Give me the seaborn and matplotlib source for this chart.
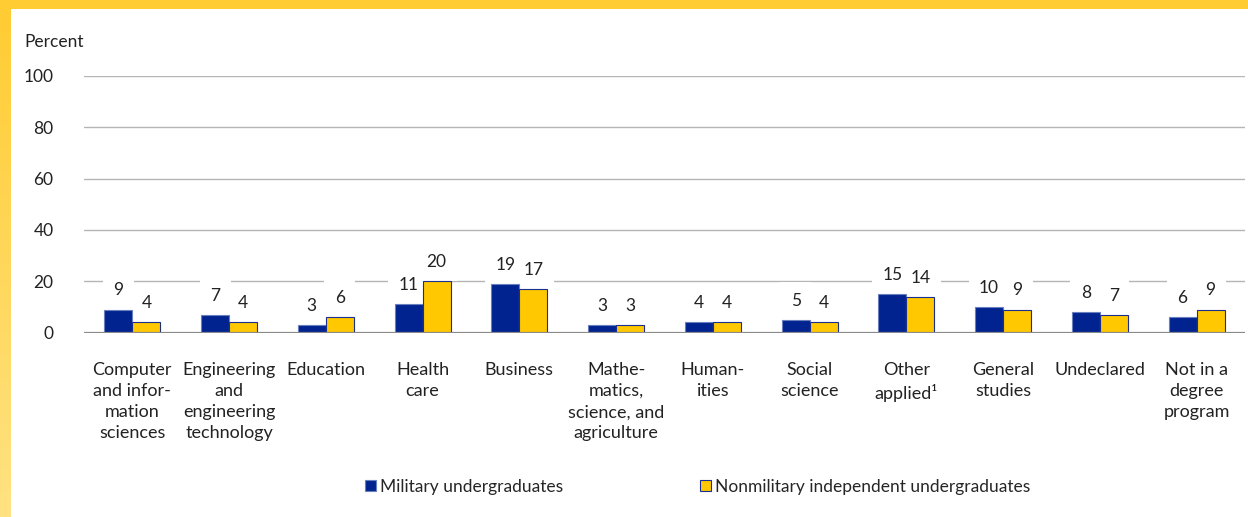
import numpy as np
import pandas as pd
import seaborn as sns
import matplotlib.pyplot as plt
from matplotlib.patches import Patch

# Data (percent of undergraduates by field of study)
categories = ['Computer\nand infor-\nmation\nsciences',
              'Engineering\nand\nengineering\ntechnology',
              'Education',
              'Health\ncare',
              'Business',
              'Mathe-\nmatics,\nscience, and\nagriculture',
              'Human-\nities',
              'Social\nscience',
              'Other\napplied\u00b9',
              'General\nstudies',
              'Undeclared',
              'Not in a\ndegree\nprogram']
military = [9, 7, 3, 11, 19, 3, 4, 5, 15, 10, 8, 6]
nonmilitary = [4, 4, 6, 20, 17, 3, 4, 4, 14, 9, 7, 9]
groups = ['Military undergraduates', 'Nonmilitary independent undergraduates']
yticks = [0, 20, 40, 60, 80, 100]

navy = '#00238f'
gold = '#ffc800'

df = pd.DataFrame({
    'field': categories * 2,
    'group': [groups[0]] * len(categories) + [groups[1]] * len(categories),
    'pct': military + nonmilitary,
})

sns.set_style('white')
plt.rcParams['font.family'] = ['Lato', 'DejaVu Sans']

fig = plt.figure(figsize=(12.48, 5.17), dpi=100)
ax = fig.add_axes([0.0673, 0.3565, 0.9303, 0.497])

sns.barplot(data=df, x='field', y='pct', hue='group', order=categories,
            hue_order=groups, palette=[navy, gold], width=0.58,
            saturation=1, legend=False, ax=ax)

# bar edges: thin light-blue on navy, navy on gold
for i, cont in enumerate(ax.containers):
    for p in cont:
        p.set_edgecolor('#6a7fc0' if i == 0 else '#1a2e8f')
        p.set_linewidth(0.8)
        p.set_zorder(3)

# white boxes first (so they mask gridlines), then the numbers on top
for cont in ax.containers:
    ax.bar_label(cont, fmt='%d', padding=8, fontsize=12.5, color='white', alpha=0,
                 bbox=dict(boxstyle='square,pad=0.6', fc='white', ec='none'),
                 zorder=2)
for cont in ax.containers:
    ax.bar_label(cont, fmt='%d', padding=8, fontsize=12.5, color='#222222',
                 zorder=2.5)

ax.set_xlim(-0.5, 11.5)
ax.set_ylim(0, 100)
ax.set_yticks(yticks)
for y in yticks[1:]:
    ax.axhline(y, color='#b5b5b5', lw=1.0, zorder=0.5)
ax.axhline(0, color='#8a8a8a', lw=1.6, zorder=4)

sns.despine(ax=ax, left=True, bottom=True, top=True, right=True)
ax.set_xlabel('')
ax.set_ylabel('')
ax.tick_params(axis='y', length=0, pad=22, labelsize=12.5, labelcolor='#222222')
ax.tick_params(axis='x', length=0, pad=21, labelsize=13, labelcolor='#222222')
for lab in ax.get_xticklabels():
    lab.set_linespacing(1.4)

fig.text(24 / 1248, 1 - 42 / 517, 'Percent', fontsize=12.5, color='#222222',
         ha='left', va='center')

# legend
handles = [Patch(facecolor=navy, edgecolor='#6a7fc0', lw=0.8),
           Patch(facecolor=gold, edgecolor='#1a2e8f', lw=0.8)]
fig.legend(handles, groups, loc='center', bbox_to_anchor=(0.559, 1 - 487 / 517),
           ncol=2, frameon=False, fontsize=12.5, handlelength=0.6,
           handleheight=0.6, handletextpad=0.25, columnspacing=7.9)

# yellow frame on top and left edges
fig.patches.append(plt.Rectangle((0, 1 - 9 / 517), 1, 9 / 517,
                                 transform=fig.transFigure, fc='#ffcc33',
                                 ec='none', zorder=0))
strip = fig.add_axes([0, 0, 11 / 1248, 1 - 9 / 517])
grad = np.linspace(0, 1, 256).reshape(-1, 1)
top_c = np.array([255, 204, 51]) / 255
bot_c = np.array([255, 226, 130]) / 255
img = top_c[None, None, :] * (1 - grad[:, :, None]) + bot_c[None, None, :] * grad[:, :, None]
strip.imshow(img, aspect='auto', extent=(0, 1, 0, 1))
strip.axis('off')

fig.savefig('out.png', dpi=100)
